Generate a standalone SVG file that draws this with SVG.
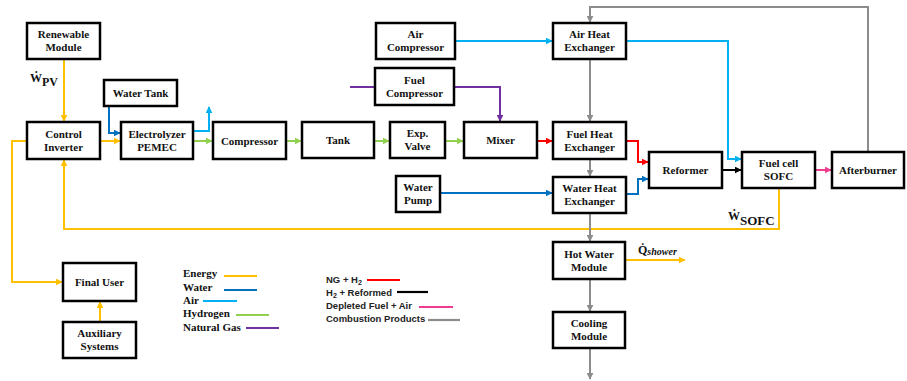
<svg xmlns="http://www.w3.org/2000/svg" width="907" height="381" viewBox="0 0 907 381">
<style>
.n rect{fill:#fff;stroke:#000;stroke-width:2.5}
.n text,.lab{font-family:"Liberation Serif","Times New Roman",serif;font-weight:bold;font-size:11px;fill:#111;text-anchor:middle}
.c path{fill:none;stroke-width:2}
.o{stroke:#FFC000}.w{stroke:#0070C0}.a{stroke:#00B0F0}.h{stroke:#92D050}.p{stroke:#7030A0}.r{stroke:#FF0000}.k{stroke:#000}.m{stroke:#EE3C8F}.g{stroke:#8C8C8C}
.leg1{font-family:"Liberation Serif","Times New Roman",serif;font-weight:bold;font-size:11px;fill:#111}
.leg2{font-family:"Liberation Sans",Arial,sans-serif;font-weight:bold;font-size:9.5px;fill:#222}
.ll{stroke-width:2.2;fill:none}
.sym{font-family:"Liberation Serif","Times New Roman",serif;font-weight:bold;fill:#111}
</style>
<defs>
<marker id="mo" viewBox="0 0 10 10" refX="9" refY="5" markerWidth="7" markerHeight="7" markerUnits="userSpaceOnUse" orient="auto"><path d="M0,0L10,5L0,10z" fill="#FFC000"/></marker>
<marker id="mw" viewBox="0 0 10 10" refX="9" refY="5" markerWidth="7" markerHeight="7" markerUnits="userSpaceOnUse" orient="auto"><path d="M0,0L10,5L0,10z" fill="#0070C0"/></marker>
<marker id="ma" viewBox="0 0 10 10" refX="9" refY="5" markerWidth="7" markerHeight="7" markerUnits="userSpaceOnUse" orient="auto"><path d="M0,0L10,5L0,10z" fill="#00B0F0"/></marker>
<marker id="mh" viewBox="0 0 10 10" refX="9" refY="5" markerWidth="7" markerHeight="7" markerUnits="userSpaceOnUse" orient="auto"><path d="M0,0L10,5L0,10z" fill="#92D050"/></marker>
<marker id="mp" viewBox="0 0 10 10" refX="9" refY="5" markerWidth="7" markerHeight="7" markerUnits="userSpaceOnUse" orient="auto"><path d="M0,0L10,5L0,10z" fill="#7030A0"/></marker>
<marker id="mr" viewBox="0 0 10 10" refX="9" refY="5" markerWidth="7" markerHeight="7" markerUnits="userSpaceOnUse" orient="auto"><path d="M0,0L10,5L0,10z" fill="#FF0000"/></marker>
<marker id="mk" viewBox="0 0 10 10" refX="9" refY="5" markerWidth="7" markerHeight="7" markerUnits="userSpaceOnUse" orient="auto"><path d="M0,0L10,5L0,10z" fill="#000"/></marker>
<marker id="mm" viewBox="0 0 10 10" refX="9" refY="5" markerWidth="7" markerHeight="7" markerUnits="userSpaceOnUse" orient="auto"><path d="M0,0L10,5L0,10z" fill="#EE3C8F"/></marker>
<marker id="mg" viewBox="0 0 10 10" refX="9" refY="5" markerWidth="7" markerHeight="7" markerUnits="userSpaceOnUse" orient="auto"><path d="M0,0L10,5L0,10z" fill="#8C8C8C"/></marker>
</defs>
<rect width="907" height="381" fill="#fff"/>

<g id="connectors" class="c">
<path class="o" d="M64,60V121" marker-end="url(#mo)"/>
<path class="o" d="M100,141H120" marker-end="url(#mo)"/>
<path class="o" d="M27,141H12V282H62" marker-end="url(#mo)"/>
<path class="o" d="M779,189V229H64V160" marker-end="url(#mo)"/>
<path class="o" d="M100,322V302" marker-end="url(#mo)"/>
<path class="o" d="M626,260H685" marker-end="url(#mo)"/>
<path class="w" d="M109,107V133H120" marker-end="url(#mw)"/>
<path class="w" d="M440,193H552" marker-end="url(#mw)"/>
<path class="w" d="M627,194H638V179H648" marker-end="url(#mw)"/>
<path class="a" d="M194,131H209V107" marker-end="url(#ma)"/>
<path class="a" d="M456,41H552" marker-end="url(#ma)"/>
<path class="a" d="M627,41H728V159H741" marker-end="url(#ma)"/>
<path class="h" d="M194,141H212" marker-end="url(#mh)"/>
<path class="h" d="M287,141H301" marker-end="url(#mh)"/>
<path class="h" d="M375,141H389" marker-end="url(#mh)"/>
<path class="h" d="M446,141H463" marker-end="url(#mh)"/>
<path class="p" d="M350,87H375"/>
<path class="p" d="M455,87H500V121" marker-end="url(#mp)"/>
<path class="r" d="M538,141H552" marker-end="url(#mr)"/>
<path class="r" d="M627,141H638V162H648" marker-end="url(#mr)"/>
<path class="k" d="M723,170H741" marker-end="url(#mk)"/>
<path class="m" d="M816,170H831" marker-end="url(#mm)"/>
<path class="g" d="M868,151V7H590V22" marker-end="url(#mg)"/>
<path class="g" d="M590,60V121" marker-end="url(#mg)"/>
<path class="g" d="M590,160V176" marker-end="url(#mg)"/>
<path class="g" d="M590,214V241" marker-end="url(#mg)"/>
<path class="g" d="M590,280V311" marker-end="url(#mg)"/>
<path class="g" d="M590,349V379" marker-end="url(#mg)"/>
</g>

<g id="renewable" class="n"><rect x="27" y="23" width="73" height="36"/><text x="63.5" y="38.3">Renewable</text><text x="63.5" y="51.3">Module</text></g>
<g id="inverter" class="n"><rect x="27" y="122" width="73" height="37"/><text x="63.5" y="137.8">Control</text><text x="63.5" y="150.8">Inverter</text></g>
<g id="watertank" class="n"><rect x="104" y="80" width="73" height="26"/><text x="140.5" y="97">Water Tank</text></g>
<g id="electrolyzer" class="n"><rect x="121" y="122" width="72" height="37"/><text x="157" y="137.8">Electrolyzer</text><text x="157" y="150.8">PEMEC</text></g>
<g id="compressor" class="n"><rect x="213" y="122" width="73" height="37"/><text x="249.5" y="144.5">Compressor</text></g>
<g id="tank" class="n"><rect x="302" y="122" width="72" height="36"/><text x="338" y="144">Tank</text></g>
<g id="expvalve" class="n"><rect x="390" y="122" width="55" height="36"/><text x="417.5" y="137.3">Exp.</text><text x="417.5" y="150.3">Valve</text></g>
<g id="mixer" class="n"><rect x="464" y="122" width="73" height="36"/><text x="500.5" y="144">Mixer</text></g>
<g id="aircompressor" class="n"><rect x="376" y="23" width="79" height="36"/><text x="415.5" y="38.3">Air</text><text x="415.5" y="51.3">Compressor</text></g>
<g id="fuelcompressor" class="n"><rect x="375" y="68" width="79" height="37"/><text x="414.5" y="83.8">Fuel</text><text x="414.5" y="96.8">Compressor</text></g>
<g id="airhx" class="n"><rect x="553" y="23" width="73" height="36"/><text x="589.5" y="38.3">Air Heat</text><text x="589.5" y="51.3">Exchanger</text></g>
<g id="fuelhx" class="n"><rect x="553" y="122" width="73" height="37"/><text x="589.5" y="137.8">Fuel Heat</text><text x="589.5" y="150.8">Exchanger</text></g>
<g id="waterpump" class="n"><rect x="396" y="176" width="44" height="36"/><text x="418" y="191.3">Water</text><text x="418" y="204.3">Pump</text></g>
<g id="waterhx" class="n"><rect x="553" y="177" width="73" height="36"/><text x="589.5" y="192.3">Water Heat</text><text x="589.5" y="205.3">Exchanger</text></g>
<g id="reformer" class="n"><rect x="649" y="152" width="73" height="36"/><text x="685.5" y="174">Reformer</text></g>
<g id="sofc" class="n"><rect x="742" y="152" width="73" height="36"/><text x="778.5" y="167.3">Fuel cell</text><text x="778.5" y="180.3">SOFC</text></g>
<g id="afterburner" class="n"><rect x="832" y="152" width="72" height="36"/><text x="868" y="174">Afterburner</text></g>
<g id="hotwater" class="n"><rect x="553" y="242" width="72" height="37"/><text x="589" y="257.8">Hot Water</text><text x="589" y="270.8">Module</text></g>
<g id="cooling" class="n"><rect x="553" y="312" width="72" height="36"/><text x="589" y="327.3">Cooling</text><text x="589" y="340.3">Module</text></g>
<g id="finaluser" class="n"><rect x="63" y="263" width="73" height="38"/><text x="99.5" y="286">Final User</text></g>
<g id="auxiliary" class="n"><rect x="63" y="322" width="73" height="36"/><text x="99.5" y="337.3">Auxiliary</text><text x="99.5" y="350.3">Systems</text></g>

<g id="labels">
<text class="sym" x="30" y="82" font-size="12">Ẇ<tspan dy="4" font-size="12">PV</tspan></text>
<text class="sym" x="728" y="220" font-size="12">Ẇ<tspan dy="5" font-size="13">SOFC</tspan></text>
<text class="sym" x="638" y="254" font-size="12">Q̇<tspan font-style="italic" font-size="10" dy="1">shower</tspan></text>
</g>

<g id="legend-streams">
<text class="leg1" x="183" y="277">Energy</text><path class="ll o" d="M224,276H257"/>
<text class="leg1" x="183" y="291">Water</text><path class="ll w" d="M224,290H257"/>
<text class="leg1" x="183" y="304">Air</text><path class="ll a" d="M203,301H237"/>
<text class="leg1" x="183" y="317">Hydrogen</text><path class="ll h" d="M236,315H269"/>
<text class="leg1" x="183" y="331">Natural Gas</text><path class="ll p" d="M246,328H279"/>
</g>
<g id="legend-gas">
<text class="leg2" x="326" y="283">NG + H<tspan font-size="7" dy="2">2</tspan></text><path class="ll r" d="M367,280H400"/>
<text class="leg2" x="326" y="296">H<tspan font-size="7" dy="2">2</tspan><tspan dy="-2"> + Reformed</tspan></text><path class="ll k" d="M397,292H428"/>
<text class="leg2" x="326" y="309">Depleted Fuel + Air</text><path class="ll m" d="M419,307H453"/>
<text class="leg2" x="326" y="322">Combustion Products</text><path class="ll g" d="M428,320H460"/>
</g>
</svg>
